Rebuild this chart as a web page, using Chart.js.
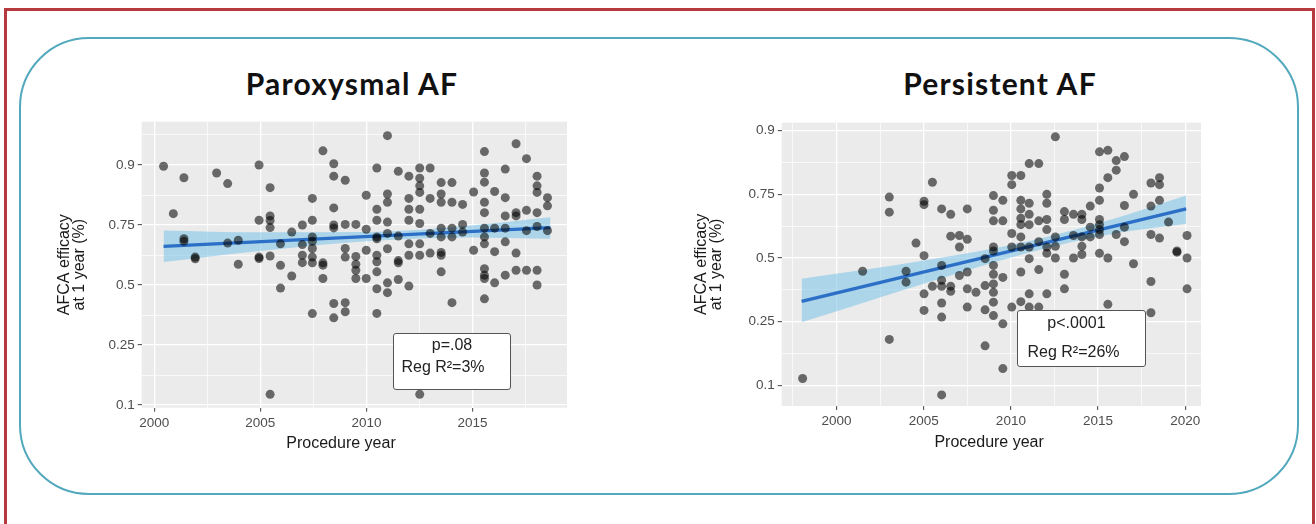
<!DOCTYPE html>
<html>
<head>
<meta charset="utf-8">
<script src="https://cdn.jsdelivr.net/npm/chart.js@4.4.1/dist/chart.umd.min.js"></script>
<style>
    html, body { margin: 0; padding: 0; background: #fff; }
    body { width: 1316px; height: 524px; position: relative; overflow: hidden; font-family: "Liberation Sans", Arial, sans-serif; }
    .frame { position: absolute; left: 4px; top: 8px; width: 1311px; height: 540px; border: 3px solid #b5393e; box-sizing: border-box; }
    .panel { position: absolute; left: 19px; top: 37px; width: 1280px; height: 458px; border: 2.5px solid #52a8bd; border-radius: 70px; box-sizing: border-box; }
    .title { position: absolute; top: 66px; height: 34px; line-height: 34px; font-family: Lato, "Open Sans", sans-serif; font-weight: bold; font-size: 30px; letter-spacing: 1.2px; color: #111; text-align: center; }
    canvas { position: absolute; }
    .stats { position: absolute; background: #fff; border: 1.3px solid #555; border-radius: 3px; box-sizing: border-box; font-size: 16px; color: #222; }
    .stats div { position: absolute; left: 0; right: 0; text-align: center; line-height: 18px; }
</style>
</head>
<body>
<div class="frame"></div>
<div class="panel"></div>

<div class="title" style="left:202px; width:300px;">Paroxysmal AF</div>
<div class="title" style="left:850px; width:300px;">Persistent AF</div>

<canvas id="paroxChart" width="557" height="350" style="left:30px; top:110px;"></canvas>
<canvas id="persChart" width="551" height="350" style="left:670px; top:110px;"></canvas>

<div class="stats" style="left:393px; top:333px; width:118px; height:57px;">
    <div style="top:2px;">p=.08</div>
    <div style="top:24px; padding-right:18px;">Reg R²=3%</div>
</div>
<div class="stats" style="left:1017px; top:310px; width:129px; height:57px;">
    <div style="top:3px; padding-right:10px;">p&lt;.0001</div>
    <div style="top:32px; padding-right:16px;">Reg R²=26%</div>
</div>

<script>
// Paroxysmal AF: procedure year vs AFCA efficacy at 1 year
const paroxYears = [
    2000.44, 2000.90, 2001.40, 2001.40, 2001.40, 2001.93, 2001.93, 2002.94, 2003.46, 2003.46,
    2003.96, 2003.96, 2004.94, 2004.94, 2004.94, 2004.94, 2005.46, 2005.46, 2005.46, 2005.46,
    2005.46, 2005.46, 2005.95, 2005.95, 2005.95, 2006.48, 2006.48, 2006.98, 2006.98, 2006.98,
    2006.98, 2007.45, 2007.45, 2007.45, 2007.45, 2007.45, 2007.45, 2007.45, 2007.45, 2007.95,
    2007.95, 2007.95, 2007.95, 2008.46, 2008.46, 2008.46, 2008.46, 2008.46, 2008.46, 2008.46,
    2009.00, 2009.00, 2009.00, 2009.00, 2009.00, 2009.00, 2009.50, 2009.50, 2009.50, 2009.50,
    2009.50, 2009.99, 2009.99, 2009.99, 2009.99, 2010.49, 2010.49, 2010.49, 2010.49, 2010.49,
    2010.49, 2010.49, 2010.49, 2010.49, 2010.49, 2010.99, 2010.99, 2010.99, 2010.99, 2010.99,
    2010.99, 2010.99, 2010.99, 2011.50, 2011.50, 2011.50, 2011.50, 2011.50, 2012.00, 2012.00,
    2012.00, 2012.00, 2012.00, 2012.00, 2012.00, 2012.51, 2012.51, 2012.51, 2012.51, 2012.51,
    2012.51, 2012.51, 2012.51, 2012.51, 2013.00, 2013.00, 2013.00, 2013.00, 2013.52, 2013.52,
    2013.52, 2013.52, 2013.52, 2013.52, 2013.52, 2013.52, 2014.03, 2014.03, 2014.03, 2014.03,
    2014.03, 2014.53, 2014.53, 2014.53, 2015.05, 2015.05, 2015.56, 2015.56, 2015.56, 2015.56,
    2015.56, 2015.56, 2015.56, 2015.56, 2015.56, 2015.56, 2015.56, 2015.56, 2016.04, 2016.04,
    2016.04, 2016.04, 2016.54, 2016.54, 2016.54, 2016.54, 2016.54, 2016.54, 2017.05, 2017.05,
    2017.05, 2017.05, 2017.05, 2017.54, 2017.54, 2017.54, 2017.54, 2018.04, 2018.04, 2018.04,
    2018.04, 2018.04, 2018.04, 2018.04, 2018.53, 2018.53, 2018.53
];
const paroxEfficacy = [
    0.898, 0.787, 0.877, 0.700, 0.690, 0.625, 0.618, 0.886, 0.865, 0.683,
    0.694, 0.594, 0.900, 0.766, 0.625, 0.619, 0.856, 0.780, 0.765, 0.741,
    0.630, 0.119, 0.680, 0.589, 0.486, 0.725, 0.541, 0.750, 0.677, 0.633,
    0.601, 0.830, 0.766, 0.707, 0.690, 0.661, 0.625, 0.600, 0.372, 0.921,
    0.600, 0.590, 0.530, 0.902, 0.880, 0.804, 0.750, 0.740, 0.416, 0.354,
    0.872, 0.752, 0.661, 0.625, 0.420, 0.380, 0.752, 0.628, 0.594, 0.567,
    0.530, 0.838, 0.735, 0.654, 0.530, 0.895, 0.800, 0.766, 0.707, 0.700,
    0.633, 0.605, 0.560, 0.483, 0.373, 0.939, 0.841, 0.820, 0.760, 0.720,
    0.660, 0.510, 0.465, 0.889, 0.710, 0.610, 0.600, 0.525, 0.880, 0.830,
    0.800, 0.766, 0.680, 0.633, 0.495, 0.895, 0.876, 0.860, 0.845, 0.800,
    0.755, 0.680, 0.633, 0.119, 0.895, 0.830, 0.720, 0.642, 0.867, 0.841,
    0.820, 0.739, 0.707, 0.645, 0.633, 0.560, 0.867, 0.820, 0.739, 0.707,
    0.420, 0.814, 0.752, 0.725, 0.846, 0.654, 0.920, 0.886, 0.868, 0.820,
    0.790, 0.739, 0.707, 0.680, 0.574, 0.545, 0.530, 0.437, 0.847, 0.739,
    0.648, 0.510, 0.893, 0.832, 0.780, 0.739, 0.688, 0.545, 0.930, 0.790,
    0.780, 0.642, 0.567, 0.910, 0.797, 0.730, 0.567, 0.880, 0.860, 0.845,
    0.790, 0.745, 0.567, 0.500, 0.832, 0.810, 0.730
];
// Linear fit and its confidence band
const paroxFitYears = [2000.44, 2018.67];
const paroxFitValues = [0.670, 0.741];
const paroxBandYears = [2000.44, 2005, 2010, 2015, 2018.67];
const paroxBandUpper = [0.731, 0.724, 0.725, 0.749, 0.776];
const paroxBandLower = [0.604, 0.651, 0.690, 0.705, 0.700];
const paroxYearTicks = [2000, 2005, 2010, 2015];

// Persistent AF
const persYears = [
    1998.06, 2001.50, 2003.03, 2003.03, 2003.03, 2003.99, 2003.99, 2004.56, 2005.02, 2005.02,
    2005.02, 2005.02, 2005.02, 2005.50, 2005.50, 2006.03, 2006.03, 2006.03, 2006.03, 2006.03,
    2006.03, 2006.03, 2006.55, 2006.55, 2006.55, 2006.55, 2007.05, 2007.05, 2007.05, 2007.50,
    2007.50, 2007.50, 2007.50, 2007.50, 2008.00, 2008.52, 2008.52, 2008.52, 2008.52, 2009.00,
    2009.00, 2009.00, 2009.00, 2009.00, 2009.00, 2009.00, 2009.00, 2009.00, 2009.00, 2009.00,
    2009.54, 2009.54, 2009.54, 2009.54, 2009.54, 2010.05, 2010.05, 2010.05, 2010.05, 2010.05,
    2010.57, 2010.57, 2010.57, 2010.57, 2010.57, 2010.57, 2010.57, 2010.57, 2010.57, 2011.05,
    2011.05, 2011.05, 2011.05, 2011.05, 2011.05, 2011.05, 2011.05, 2011.60, 2011.60, 2011.60,
    2011.60, 2011.60, 2012.06, 2012.06, 2012.06, 2012.06, 2012.06, 2012.06, 2012.06, 2012.55,
    2012.55, 2012.55, 2012.55, 2013.07, 2013.07, 2013.07, 2013.07, 2013.59, 2013.59, 2013.59,
    2014.07, 2014.07, 2014.07, 2014.07, 2014.07, 2014.55, 2014.55, 2014.55, 2015.08, 2015.08,
    2015.08, 2015.08, 2015.08, 2015.08, 2015.08, 2015.08, 2015.56, 2015.56, 2015.56, 2015.56,
    2016.04, 2016.04, 2016.04, 2016.51, 2016.51, 2016.51, 2016.51, 2017.03, 2017.03, 2018.03,
    2018.03, 2018.03, 2018.03, 2018.03, 2018.52, 2018.52, 2018.52, 2018.52, 2019.04, 2019.52,
    2019.52, 2020.10, 2020.10, 2020.10
];
const persEfficacy = [
    0.111, 0.443, 0.741, 0.688, 0.197, 0.443, 0.397, 0.564, 0.727, 0.715,
    0.510, 0.350, 0.288, 0.787, 0.380, 0.700, 0.468, 0.405, 0.380, 0.315,
    0.265, 0.086, 0.680, 0.593, 0.380, 0.360, 0.596, 0.547, 0.425, 0.700,
    0.580, 0.440, 0.370, 0.300, 0.356, 0.497, 0.383, 0.290, 0.180, 0.746,
    0.695, 0.655, 0.547, 0.530, 0.468, 0.430, 0.390, 0.356, 0.318, 0.270,
    0.730, 0.655, 0.417, 0.243, 0.129, 0.806, 0.780, 0.604, 0.547, 0.300,
    0.806, 0.730, 0.700, 0.665, 0.640, 0.590, 0.547, 0.440, 0.320, 0.836,
    0.720, 0.680, 0.640, 0.547, 0.497, 0.350, 0.300, 0.836, 0.655, 0.570,
    0.450, 0.300, 0.750, 0.720, 0.660, 0.620, 0.547, 0.520, 0.350, 0.890,
    0.590, 0.550, 0.500, 0.690, 0.660, 0.430, 0.370, 0.680, 0.596, 0.500,
    0.680, 0.660, 0.590, 0.550, 0.515, 0.710, 0.630, 0.590, 0.862, 0.770,
    0.730, 0.660, 0.640, 0.620, 0.600, 0.520, 0.865, 0.800, 0.500, 0.310,
    0.843, 0.820, 0.600, 0.852, 0.712, 0.630, 0.570, 0.750, 0.475, 0.785,
    0.710, 0.600, 0.400, 0.280, 0.800, 0.780, 0.730, 0.585, 0.650, 0.530,
    0.525, 0.596, 0.500, 0.370
];
const persFitYears = [1998.0, 2020.05];
const persFitValues = [0.321, 0.700];
const persBandYears = [1998.0, 2005, 2011, 2016, 2020.05];
const persBandUpper = [0.411, 0.489, 0.572, 0.665, 0.746];
const persBandLower = [0.248, 0.391, 0.523, 0.605, 0.644];
const persYearTicks = [2000, 2005, 2010, 2015, 2020];

// Shared y axis (logit scale)
const efficacyTicks = [0.1, 0.25, 0.5, 0.75, 0.9];
const efficacyLabels = ['0.1', '0.25', '0.5', '0.75', '0.9'];

function logit(p) {
    return Math.log(p / (1 - p));
}

function toPoints(xs, ys) {
    return xs.map((x, i) => ({ x: x, y: logit(ys[i]) }));
}

// Major ticks plus ggplot-style minor ticks halfway between them
function gridTicks(values, labels) {
    const ticks = [];
    for (let i = 0; i < values.length; i++) {
        const gap = i > 0 ? values[i] - values[i - 1] : values[1] - values[0];
        ticks.push({ value: values[i] - gap / 2, label: '', minor: true });
        ticks.push({ value: values[i], label: labels[i], minor: false });
    }
    const n = values.length - 1;
    ticks.push({ value: values[n] + (values[n] - values[n - 1]) / 2, label: '', minor: true });
    return ticks;
}

// Grey ggplot panel behind the grid
const panelBackground = {
    id: 'panelBackground',
    beforeDraw(chart) {
        const { ctx, chartArea } = chart;
        ctx.save();
        ctx.fillStyle = '#ebebeb';
        ctx.fillRect(chartArea.left, chartArea.top, chartArea.width, chartArea.height);
        ctx.restore();
    }
};

function axisOptions(ticks, min, max, extra) {
    return Object.assign({
        type: 'linear',
        min: min,
        max: max,
        border: { display: false },
        afterBuildTicks: (scale) => {
            scale.ticks = ticks.filter(t => t.value >= min && t.value <= max)
                .map(t => Object.assign({}, t));
        },
        grid: {
            color: '#ffffff',
            lineWidth: (c) => (c.tick && c.tick.minor) ? 0.7 : 1.3,
            tickColor: (c) => (c.tick && c.tick.minor) ? 'rgba(0,0,0,0)' : '#444',
            tickLength: 4,
            tickWidth: 1
        },
        ticks: {
            autoSkip: false,
            maxRotation: 0,
            color: '#4d4d4d',
            font: { family: 'Liberation Sans', size: 13.5 },
            callback: (value, index, list) => list[index].label
        }
    }, extra);
}

function makeChart(canvasId, s) {
    const yTicks = gridTicks(efficacyTicks.map(logit), efficacyLabels);
    const xTicks = gridTicks(s.yearTicks, s.yearTicks.map(String));

    return new Chart(document.getElementById(canvasId), {
        type: 'scatter',
        data: {
            datasets: [
                {
                    type: 'line',
                    data: toPoints(s.bandYears, s.bandUpper),
                    borderWidth: 0,
                    pointRadius: 0,
                    backgroundColor: 'rgba(130, 198, 232, 0.6)',
                    cubicInterpolationMode: 'monotone',
                    fill: '+1',
                    order: 3
                },
                {
                    type: 'line',
                    data: toPoints(s.bandYears, s.bandLower),
                    borderWidth: 0,
                    pointRadius: 0,
                    cubicInterpolationMode: 'monotone',
                    fill: false,
                    order: 3
                },
                {
                    type: 'line',
                    data: toPoints(s.fitYears, s.fitValues),
                    borderColor: '#2c6fc6',
                    borderWidth: 3.2,
                    pointRadius: 0,
                    fill: false,
                    order: 2
                },
                {
                    data: toPoints(s.years, s.efficacy),
                    backgroundColor: 'rgba(0, 0, 0, 0.56)',
                    borderWidth: 0,
                    pointRadius: 4.5,
                    pointHoverRadius: 4.5,
                    order: 1
                }
            ]
        },
        options: {
            responsive: false,
            animation: false,
            events: [],
            layout: { padding: s.padding },
            plugins: {
                legend: { display: false },
                tooltip: { enabled: false }
            },
            scales: {
                x: axisOptions(xTicks, s.xMin, s.xMax, {
                    afterFit: (scale) => { scale.height = s.xAxisHeight; },
                    title: {
                        display: true,
                        // trailing spaces nudge the centred title left, as in the original
                        text: 'Procedure year' + ' '.repeat(s.xTitleShift),
                        color: '#1a1a1a',
                        font: { family: 'Liberation Sans', size: 16, lineHeight: 1 },
                        padding: { top: 0, bottom: s.xTitlePad }
                    }
                }),
                y: axisOptions(yTicks, s.yMin, s.yMax, {
                    afterFit: (scale) => { scale.width = s.yAxisWidth; },
                    title: {
                        display: true,
                        text: ['AFCA efficacy', 'at 1 year (%)'],
                        color: '#1a1a1a',
                        font: { family: 'Liberation Sans', size: 16, lineHeight: 0.95 },
                        padding: { top: s.yTitlePad, bottom: 0 }
                    }
                })
            }
        },
        plugins: [panelBackground]
    });
}

// Paroxysmal chart: panel 141.7-566.7 x, 121.7-407.7 y
makeChart('paroxChart', {
    years: paroxYears, efficacy: paroxEfficacy,
    fitYears: paroxFitYears, fitValues: paroxFitValues,
    bandYears: paroxBandYears, bandUpper: paroxBandUpper, bandLower: paroxBandLower,
    yearTicks: paroxYearTicks,
    xMin: 1999.41, xMax: 2019.45, yMin: -2.246, yMax: 2.99,
    padding: { top: 11.7, right: 20, bottom: 0, left: 0 },
    yAxisWidth: 111.7, xAxisHeight: 52.3, xTitlePad: 8, yTitlePad: 27, xTitleShift: 6
});

// Persistent chart: panel 781.7-1200.7 x, 122.7-406 y
makeChart('persChart', {
    years: persYears, efficacy: persEfficacy,
    fitYears: persFitYears, fitValues: persFitValues,
    bandYears: persBandYears, bandUpper: persBandUpper, bandLower: persBandLower,
    yearTicks: persYearTicks,
    xMin: 1996.86, xMax: 2020.9, yMin: -2.555, yMax: 2.335,
    padding: { top: 12.7, right: 20, bottom: 0, left: 0 },
    yAxisWidth: 111.7, xAxisHeight: 54, xTitlePad: 9, yTitlePad: 23.5, xTitleShift: 1
});
</script>
</body>
</html>
